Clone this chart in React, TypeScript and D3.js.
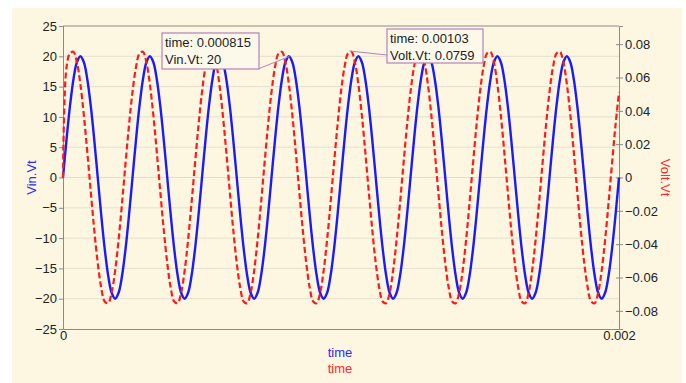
import * as React from 'react';
import * as d3 from 'd3';

// sample interval of the simulation output (s)
const timeStep = 0.0000125;

// Vin.Vt, one row per period (20 samples each) plus the last point
const vinValues = [
    0, 6.18, 11.76, 16.18, 19.02, 20, 19.02, 16.18, 11.76, 6.18, 0, -6.18, -11.76, -16.18, -19.02, -20, -19.02, -16.18, -11.76, -6.18,
    0, 6.18, 11.76, 16.18, 19.02, 20, 19.02, 16.18, 11.76, 6.18, 0, -6.18, -11.76, -16.18, -19.02, -20, -19.02, -16.18, -11.76, -6.18,
    0, 6.18, 11.76, 16.18, 19.02, 20, 19.02, 16.18, 11.76, 6.18, 0, -6.18, -11.76, -16.18, -19.02, -20, -19.02, -16.18, -11.76, -6.18,
    0, 6.18, 11.76, 16.18, 19.02, 20, 19.02, 16.18, 11.76, 6.18, 0, -6.18, -11.76, -16.18, -19.02, -20, -19.02, -16.18, -11.76, -6.18,
    0, 6.18, 11.76, 16.18, 19.02, 20, 19.02, 16.18, 11.76, 6.18, 0, -6.18, -11.76, -16.18, -19.02, -20, -19.02, -16.18, -11.76, -6.18,
    0, 6.18, 11.76, 16.18, 19.02, 20, 19.02, 16.18, 11.76, 6.18, 0, -6.18, -11.76, -16.18, -19.02, -20, -19.02, -16.18, -11.76, -6.18,
    0, 6.18, 11.76, 16.18, 19.02, 20, 19.02, 16.18, 11.76, 6.18, 0, -6.18, -11.76, -16.18, -19.02, -20, -19.02, -16.18, -11.76, -6.18,
    0, 6.18, 11.76, 16.18, 19.02, 20, 19.02, 16.18, 11.76, 6.18, 0, -6.18, -11.76, -16.18, -19.02, -20, -19.02, -16.18, -11.76, -6.18,
    0
];

// Volt.Vt, same sampling (starts from 0)
const voltValues = [
    0, 0.0661, 0.0744, 0.0754, 0.0691, 0.0560, 0.0374, 0.0151, -0.0086, -0.0315, -0.0513, -0.0661, -0.0744, -0.0754, -0.0691, -0.0560, -0.0374, -0.0151, 0.0086, 0.0315,
    0.0513, 0.0661, 0.0744, 0.0754, 0.0691, 0.0560, 0.0374, 0.0151, -0.0086, -0.0315, -0.0513, -0.0661, -0.0744, -0.0754, -0.0691, -0.0560, -0.0374, -0.0151, 0.0086, 0.0315,
    0.0513, 0.0661, 0.0744, 0.0754, 0.0691, 0.0560, 0.0374, 0.0151, -0.0086, -0.0315, -0.0513, -0.0661, -0.0744, -0.0754, -0.0691, -0.0560, -0.0374, -0.0151, 0.0086, 0.0315,
    0.0513, 0.0661, 0.0744, 0.0754, 0.0691, 0.0560, 0.0374, 0.0151, -0.0086, -0.0315, -0.0513, -0.0661, -0.0744, -0.0754, -0.0691, -0.0560, -0.0374, -0.0151, 0.0086, 0.0315,
    0.0513, 0.0661, 0.0744, 0.0754, 0.0691, 0.0560, 0.0374, 0.0151, -0.0086, -0.0315, -0.0513, -0.0661, -0.0744, -0.0754, -0.0691, -0.0560, -0.0374, -0.0151, 0.0086, 0.0315,
    0.0513, 0.0661, 0.0744, 0.0754, 0.0691, 0.0560, 0.0374, 0.0151, -0.0086, -0.0315, -0.0513, -0.0661, -0.0744, -0.0754, -0.0691, -0.0560, -0.0374, -0.0151, 0.0086, 0.0315,
    0.0513, 0.0661, 0.0744, 0.0754, 0.0691, 0.0560, 0.0374, 0.0151, -0.0086, -0.0315, -0.0513, -0.0661, -0.0744, -0.0754, -0.0691, -0.0560, -0.0374, -0.0151, 0.0086, 0.0315,
    0.0513, 0.0661, 0.0744, 0.0754, 0.0691, 0.0560, 0.0374, 0.0151, -0.0086, -0.0315, -0.0513, -0.0661, -0.0744, -0.0754, -0.0691, -0.0560, -0.0374, -0.0151, 0.0086, 0.0315,
    0.0513
];

const leftTicks = [25, 20, 15, 10, 5, 0, -5, -10, -15, -20, -25];
const rightTicks = [0.08, 0.06, 0.04, 0.02, 0, -0.02, -0.04, -0.06, -0.08];
const timeTicks = [0, 0.002];

// cursor readouts
const markers = [
    {time: 0.000815, series: 'Vin.Vt', value: 20, lines: ['time: 0.000815', 'Vin.Vt: 20'], box: [162, 33, 97, 36]},
    {time: 0.00103, series: 'Volt.Vt', value: 0.0759, lines: ['time: 0.00103', 'Volt.Vt: 0.0759'], box: [387, 29, 96, 34]}
];

const W = 686, H = 383;
const margin = {left: 63, right: 67, top: 26, bottom: 54};
const font = '"Liberation Sans", Arial, sans-serif';

export default function App() {
    const ref = React.useRef<SVGSVGElement>(null);

    React.useEffect(() => {
        const svg = d3.select(ref.current);
        svg.selectAll('*').remove();

        const x = d3.scaleLinear().domain([0, 0.002]).range([margin.left, W - margin.right]);
        const yL = d3.scaleLinear().domain([-25, 25]).range([H - margin.bottom, margin.top]);
        const yR = d3.scaleLinear().domain([-0.0909, 0.0909]).range([H - margin.bottom, margin.top]);

        svg.append('rect').attr('x', 12).attr('y', 8).attr('width', 670).attr('height', H - 8).attr('fill', '#fdf7e2');

        // grid
        svg.append('g').selectAll('line').data(leftTicks.filter(d => d !== 25 && d !== -25)).enter().append('line')
            .attr('x1', margin.left).attr('x2', W - margin.right)
            .attr('y1', d => yL(d)).attr('y2', d => yL(d))
            .attr('stroke', '#e4dfcd').attr('stroke-width', 1);

        // frame
        svg.append('line').attr('x1', margin.left).attr('x2', W - margin.right)
            .attr('y1', margin.top).attr('y2', margin.top).attr('stroke', '#8a8a8a');

        const leftAxis = svg.append('g').attr('transform', 'translate(' + margin.left + ',0)')
            .call(d3.axisLeft(yL).tickValues(leftTicks).tickSize(4).tickPadding(2).tickFormat(d3.format('d')));
        const rightAxis = svg.append('g').attr('transform', 'translate(' + (W - margin.right) + ',0)')
            .call(d3.axisRight(yR).tickValues(rightTicks).tickSize(4).tickPadding(2).tickFormat(d => d3.format('.2f')(d as number).replace('0.00', '0')));
        const bottomAxis = svg.append('g').attr('transform', 'translate(0,' + (H - margin.bottom) + ')')
            .call(d3.axisBottom(x).tickValues(timeTicks).tickSize(0).tickPadding(2).tickFormat(d => d === 0 ? '0' : '0.002'));
        [leftAxis, rightAxis, bottomAxis].forEach(a => {
            a.select('.domain').attr('stroke', '#8a8a8a');
            a.selectAll('line').attr('stroke', '#8a8a8a');
            a.selectAll('text').attr('fill', '#222').style('font-size', '13px').style('font-family', font);
        });
        rightAxis.selectAll('.tick line').attr('x1', -3);

        // series
        const vinLine = d3.line<number>().x((d, i) => x(i * timeStep)).y(d => yL(d)).curve(d3.curveCatmullRom);
        const voltLine = d3.line<number>().x((d, i) => x(i * timeStep)).y(d => yR(d)).curve(d3.curveCatmullRom);

        svg.append('path').datum(vinValues).attr('d', vinLine)
            .attr('fill', 'none').attr('stroke', '#1a1aff').attr('stroke-width', 2.4);
        svg.append('path').datum(voltValues).attr('d', voltLine)
            .attr('fill', 'none').attr('stroke', '#ff1a1a').attr('stroke-width', 2.2).attr('stroke-dasharray', '6,3');

        // axis titles
        svg.append('text').attr('transform', 'translate(36,' + yL(0) + ') rotate(-90)')
            .attr('text-anchor', 'middle').attr('fill', '#2a2aff').style('font-size', '13px').style('font-family', font)
            .text('Vin.Vt');
        svg.append('text').attr('transform', 'translate(661,' + yL(0) + ') rotate(90)')
            .attr('text-anchor', 'middle').attr('fill', '#ff2a2a').style('font-size', '13px').style('font-family', font)
            .text('Volt.Vt');
        svg.append('text').attr('x', 340).attr('y', 357).attr('text-anchor', 'middle')
            .attr('fill', '#2a2aff').style('font-size', '13px').style('font-family', font).text('time');
        svg.append('text').attr('x', 340).attr('y', 373).attr('text-anchor', 'middle')
            .attr('fill', '#ff2a2a').style('font-size', '13px').style('font-family', font).text('time');

        // readouts
        markers.forEach(m => {
            const [bx, by, bw, bh] = m.box;
            const px = x(m.time);
            const py = m.series === 'Vin.Vt' ? yL(m.value) : yR(m.value);
            const ax = px < bx ? bx : bx + bw - 1;
            const ay = m.series === 'Vin.Vt' ? by + bh : by + 26;
            svg.append('line').attr('x1', ax).attr('y1', ay).attr('x2', px).attr('y2', py)
                .attr('stroke', '#b77fb7').attr('stroke-width', 1);
            svg.append('rect').attr('x', bx).attr('y', by).attr('width', bw).attr('height', bh)
                .attr('fill', '#fdf9ea').attr('stroke', '#b77fb7').attr('stroke-width', 1.2);
            m.lines.forEach((t, i) => {
                svg.append('text').attr('x', bx + 3).attr('y', by + 14 + i * 17)
                    .attr('fill', '#222').style('font-size', '13px').style('font-family', font).text(t);
            });
        });
    }, []);

    return (
        <svg ref={ref} width={W} height={H} style={{position: 'absolute', left: 0, top: 0, background: '#fff'}}/>
    );
}
